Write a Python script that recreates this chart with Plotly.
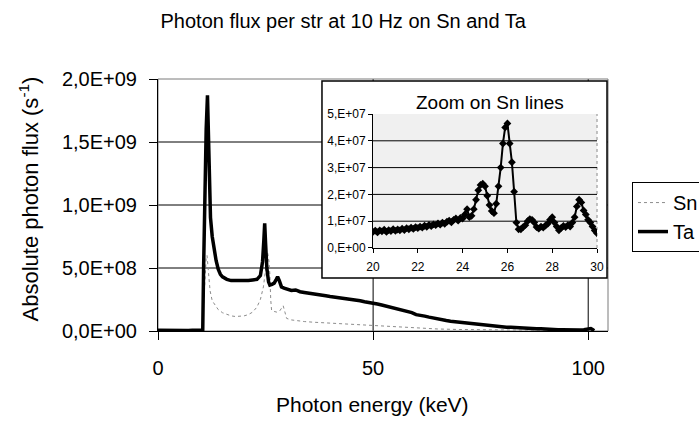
import plotly.graph_objects as go

# ---------------- data ----------------
ta_energy_kev = [0, 1, 2, 3, 4, 5, 6, 7, 8, 9, 10, 10.4,
                 10.6, 10.9, 11.2, 11.5, 11.7, 11.9, 12.2, 12.6, 13.0, 13.5, 14.0, 14.5, 15.0,
                 16, 17, 18, 19, 20, 21, 22, 23, 23.8, 24.3, 24.6, 24.8, 25.0, 25.3, 25.7,
                 26.0, 26.5, 27.0, 27.5, 27.8, 28.2, 28.7, 29.3,
                 30, 31, 32, 33, 34, 35, 36, 37, 38, 39, 40, 41, 42, 43, 44, 45, 46, 47, 48, 49,
                 50, 51, 52, 53, 54, 55, 56, 57, 58, 59, 60, 61, 62, 63, 64, 65, 66, 67, 68, 69,
                 70, 71, 72, 73, 74, 75, 76, 77, 78, 79, 80, 81, 82, 83, 84, 85, 86, 87, 88, 89,
                 90, 91, 92, 93, 94, 95, 96, 97, 98, 99, 100, 100.6, 101.0, 101.4]
ta_flux = [5e6, 4e6, 5e6, 4e6, 5e6, 4e6, 5e6, 4e6, 5e6, 4e6, 5e6, 6e6,
           5.0e8, 1.20e9, 1.60e9, 1.87e9, 1.50e9, 1.15e9, 9.0e8, 7.5e8, 6.5e8, 5.6e8, 4.9e8, 4.5e8, 4.3e8,
           4.1e8, 4.0e8, 4.0e8, 3.95e8, 4.0e8, 4.0e8, 4.05e8, 4.1e8, 4.4e8, 5.5e8, 7.2e8, 8.55e8, 7.0e8, 5.0e8, 3.9e8,
           3.65e8, 3.7e8, 3.8e8, 4.1e8, 4.3e8, 4.0e8, 3.5e8, 3.4e8,
           3.30e8, 3.22e8, 3.26e8, 3.12e8, 3.06e8, 3.02e8, 2.96e8, 2.92e8, 2.88e8, 2.80e8,
           2.74e8, 2.70e8, 2.62e8, 2.58e8, 2.54e8, 2.50e8, 2.44e8, 2.40e8, 2.32e8, 2.28e8,
           2.22e8, 2.14e8, 2.06e8, 1.98e8, 1.92e8, 1.82e8, 1.72e8, 1.62e8, 1.56e8, 1.46e8,
           1.30e8, 1.26e8, 1.18e8, 1.10e8, 1.02e8, 9.4e7, 9.2e7, 8.3e7, 7.8e7, 7.4e7,
           6.8e7, 6.4e7, 6.0e7, 5.6e7, 5.3e7, 5.0e7, 4.6e7, 4.2e7, 4.0e7, 3.6e7,
           3.4e7, 3.0e7, 2.9e7, 2.6e7, 2.5e7, 2.2e7, 2.2e7, 2.0e7, 1.8e7, 1.7e7,
           1.4e7, 1.3e7, 1.2e7, 1.0e7, 1.0e7, 8e6, 9e6, 7e6, 8e6, 1.0e7, 1.8e7, 2.0e7, 1.2e7, 3e6]

sn_energy_kev = [0, 2, 4, 6, 8, 10, 10.4, 10.6, 10.9, 11.2, 11.4, 11.7, 12.1, 12.6, 13.3, 14, 15,
                 16, 17, 18, 19, 20, 21, 22, 23, 23.8, 24.5, 25.0, 25.5, 25.8, 26.0, 26.2, 26.4,
                 27.0, 27.6, 28.3, 28.8, 29.1, 29.5, 29.9, 31, 32, 34, 36, 38, 40, 42, 45,
                 50, 55, 60, 65, 70, 75, 80, 85, 90, 95, 100, 101]
sn_flux = [3e6, 3e6, 3e6, 3e6, 3e6, 3e6, 3e6, 2.0e8, 4.5e8, 5.8e8, 6.0e8, 4.5e8, 3.2e8, 2.4e8, 2.0e8, 1.7e8, 1.45e8,
           1.3e8, 1.2e8, 1.15e8, 1.15e8, 1.2e8, 1.3e8, 1.5e8, 1.9e8, 2.5e8, 3.5e8, 4.8e8, 6.2e8, 5.5e8, 4.5e8, 2.5e8, 1.65e8,
           1.55e8, 1.5e8, 1.6e8, 1.9e8, 2.0e8, 1.5e8, 1.0e8, 8.8e7, 8.2e7, 7.5e7, 7.0e7, 6.6e7, 6.2e7, 6.0e7, 5.5e7,
           4.8e7, 3.8e7, 2.8e7, 1.6e7, 1.2e7, 9e6, 7e6, 6e6, 5e6, 4e6, 3e6, 2e6]

zoom_energy_kev = [20.0, 20.1, 20.2, 20.3, 20.4, 20.5, 20.6, 20.7, 20.8, 20.9,
                   21.0, 21.1, 21.2, 21.3, 21.4, 21.5, 21.6, 21.7, 21.8, 21.9,
                   22.0, 22.1, 22.2, 22.3, 22.4, 22.5, 22.6, 22.7, 22.8, 22.9,
                   23.0, 23.1, 23.2, 23.3, 23.4, 23.5, 23.6, 23.7, 23.8, 23.9,
                   24.0, 24.1, 24.2, 24.3, 24.4, 24.5, 24.6, 24.7, 24.8, 24.9,
                   25.0, 25.1, 25.2, 25.3, 25.4, 25.5, 25.6, 25.7, 25.8, 25.9,
                   26.0, 26.1, 26.2, 26.3, 26.4, 26.5, 26.6, 26.7, 26.8, 26.9,
                   27.0, 27.1, 27.2, 27.3, 27.4, 27.5, 27.6, 27.7, 27.8, 27.9,
                   28.0, 28.1, 28.2, 28.3, 28.4, 28.5, 28.6, 28.7, 28.8, 28.9,
                   29.0, 29.1, 29.2, 29.3, 29.4, 29.5, 29.6, 29.7, 29.8, 29.9, 30.0]
zoom_flux = [6.0e6, 6.5e6, 5.8e6, 6.6e6, 6.2e6, 6.8e6, 6.0e6, 6.7e6, 6.3e6, 7.0e6,
             6.4e6, 6.9e6, 6.6e6, 7.2e6, 6.7e6, 7.4e6, 7.0e6, 7.6e6, 7.1e6, 7.8e6,
             7.4e6, 8.0e6, 7.6e6, 8.3e6, 7.9e6, 8.6e6, 8.2e6, 8.8e6, 8.5e6, 9.2e6,
             8.7e6, 9.5e6, 9.0e6, 9.8e6, 1.02e7, 9.6e6, 1.05e7, 1.10e7, 1.02e7, 1.12e7,
             1.10e7, 1.25e7, 1.45e7, 1.15e7, 1.20e7, 1.45e7, 1.80e7, 2.15e7, 2.35e7, 2.40e7,
             2.30e7, 1.95e7, 1.60e7, 1.38e7, 1.30e7, 1.65e7, 2.30e7, 3.00e7, 3.90e7, 4.50e7,
             4.65e7, 3.90e7, 3.20e7, 2.10e7, 9.5e6, 7.0e6, 7.0e6, 7.8e6, 8.5e6, 1.00e7,
             1.08e7, 1.05e7, 9.5e6, 7.8e6, 7.2e6, 8.0e6, 7.6e6, 8.4e6, 9.0e6, 1.05e7,
             1.15e7, 9.5e6, 8.0e6, 6.6e6, 7.5e6, 8.2e6, 7.8e6, 8.5e6, 8.0e6, 9.5e6,
             1.15e7, 1.55e7, 1.80e7, 1.70e7, 1.40e7, 1.25e7, 1.05e7, 9.5e6, 8.0e6, 6.5e6, 5.5e6]

main_y_ticks = [0, 5e8, 1e9, 1.5e9, 2e9]
main_y_labels = ["0,0E+00", "5,0E+08", "1,0E+09", "1,5E+09", "2,0E+09"]
main_x_ticks = [0, 50, 100]
main_x_labels = ["0", "50", "100"]
zoom_y_ticks = [0, 1e7, 2e7, 3e7, 4e7, 5e7]
zoom_y_labels = ["0,E+00", "1,E+07", "2,E+07", "3,E+07", "4,E+07", "5,E+07"]
zoom_x_ticks = [20, 22, 24, 26, 28, 30]
zoom_x_labels = ["20", "22", "24", "26", "28", "30"]

FONT = "Liberation Sans, Arial, sans-serif"

fig = go.Figure()

fig.add_trace(go.Scatter(x=sn_energy_kev, y=sn_flux, name="Sn", mode="lines",
                         line=dict(color="#8c8c8c", width=1, dash="dot"),
                         xaxis="x", yaxis="y"))
fig.add_trace(go.Scatter(x=ta_energy_kev, y=ta_flux, name="Ta", mode="lines",
                         line=dict(color="black", width=3.5),
                         xaxis="x", yaxis="y"))
fig.add_trace(go.Scatter(x=zoom_energy_kev, y=zoom_flux, mode="lines+markers",
                         line=dict(color="black", width=2),
                         marker=dict(symbol="diamond", size=6, color="black"),
                         showlegend=False, xaxis="x2", yaxis="y2"))

shapes = []
# main gridlines
for v in main_y_ticks[1:4]:
    shapes.append(dict(type="line", layer="below", xref="x domain", yref="y",
                       x0=0, x1=1, y0=v, y1=v, line=dict(color="black", width=1)))
for v in main_x_ticks[1:]:
    shapes.append(dict(type="line", layer="below", xref="x", yref="y domain",
                       x0=v, x1=v, y0=0, y1=1, line=dict(color="black", width=1)))
# main plot border
shapes.append(dict(type="rect", layer="below", xref="x domain", yref="y domain",
                   x0=0, x1=1, y0=0, y1=1, line=dict(color="#7a7a7a", width=1)))
# inset white box
shapes.append(dict(type="rect", layer="below", xref="paper", yref="paper",
                   x0=0.3644, x1=0.9978, y0=0.2103, y1=0.992,
                   fillcolor="white", line=dict(color="black", width=1.5)))
# inset plot background
shapes.append(dict(type="rect", layer="below", xref="x2 domain", yref="y2 domain",
                   x0=0, x1=1, y0=0, y1=1, fillcolor="#f0f0f0",
                   line=dict(width=0)))
shapes.append(dict(type="line", layer="below", xref="x2 domain", yref="y2 domain",
                   x0=1, x1=1, y0=0, y1=1, line=dict(color="#8a8a8a", width=1, dash="dot")))
for v in zoom_y_ticks[1:5]:
    shapes.append(dict(type="line", layer="below", xref="x2 domain", yref="y2",
                       x0=0, x1=1, y0=v, y1=v, line=dict(color="black", width=1)))

fig.update_layout(
    width=699, height=423,
    paper_bgcolor="white", plot_bgcolor="rgba(0,0,0,0)",
    margin=dict(l=158, r=91, t=79, b=92, autoexpand=False),
    font=dict(family=FONT, color="black", size=20),
    title=dict(text="Photon flux per str at 10 Hz on Sn and Ta", x=0.491, xanchor="center",
               y=0.95, yanchor="middle", font=dict(size=20, family=FONT)),
    showlegend=True,
    legend=dict(x=1.0533, xanchor="left", y=0.591, yanchor="top",
                bgcolor="white", bordercolor="black", borderwidth=1,
                font=dict(size=20, family=FONT), itemwidth=30,
                tracegroupgap=0),
    xaxis=dict(domain=[0, 1], range=[0, 104.6], showgrid=False, zeroline=False,
               showline=True, linecolor="black", linewidth=1,
               ticks="outside", ticklen=8, tickcolor="black",
               tickmode="array", tickvals=main_x_ticks, ticktext=main_x_labels,
               ticklabelstandoff=11, tickfont=dict(size=20)),
    yaxis=dict(domain=[0, 1], range=[0, 2e9], showgrid=False, zeroline=False,
               showline=True, linecolor="black", linewidth=1,
               ticks="outside", ticklen=8, tickcolor="black",
               tickmode="array", tickvals=main_y_ticks, ticktext=main_y_labels,
               ticklabelstandoff=8, tickfont=dict(size=20)),
    xaxis2=dict(domain=[0.4778, 0.9756], range=[20, 30], anchor="y2",
                showgrid=False, zeroline=False, showline=True, linecolor="black",
                ticks="outside", ticklen=4, tickcolor="black",
                tickmode="array", tickvals=zoom_x_ticks, ticktext=zoom_x_labels,
                ticklabelstandoff=4, tickfont=dict(size=12)),
    yaxis2=dict(domain=[0.3294, 0.8611], range=[0, 5e7], anchor="x2",
                showgrid=False, zeroline=False, showline=True, linecolor="black",
                ticks="outside", ticklen=4, tickcolor="black",
                tickmode="array", tickvals=zoom_y_ticks, ticktext=zoom_y_labels,
                tickfont=dict(size=12)),
    shapes=shapes,
    annotations=[
        dict(text="Absolute photon flux (s<sup>-1</sup>)", textangle=-90,
             xref="paper", yref="paper", x=-0.2867, y=0.526,
             xanchor="center", yanchor="middle", showarrow=False,
             font=dict(size=22, family=FONT)),
        dict(text="Photon energy (keV)", xref="paper", yref="paper",
             x=0.476, y=-0.29, xanchor="center", yanchor="middle",
             showarrow=False, font=dict(size=21, family=FONT)),
        dict(text="Zoom on Sn lines", xref="paper", yref="paper",
             x=0.7378, y=0.9087, xanchor="center", yanchor="middle",
             showarrow=False, font=dict(size=19, family=FONT)),
    ],
)

fig.write_html("out.html", config={"displayModeBar": False},
               post_script="document.body.style.margin='0';")
